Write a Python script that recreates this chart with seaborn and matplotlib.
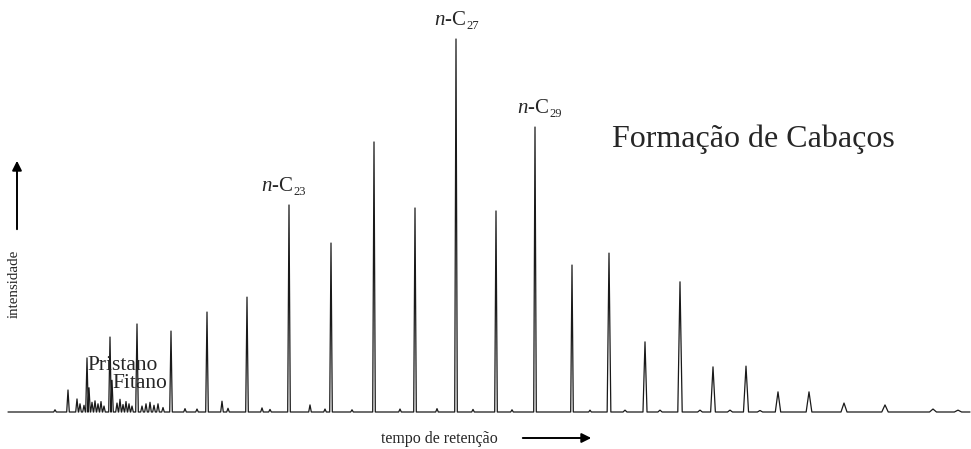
"""
Cromatograma de hidrocarbonetos saturados - Formação de Cabaços.
"""

import matplotlib
matplotlib.use("Agg")
import matplotlib.pyplot as plt
import numpy as np
import pandas as pd
import seaborn as sns

# retention position (arbitrary units) and relative intensity (% of n-C27)
peak_rt = [68, 77, 87, 89, 110, 112, 137, 171, 207, 247, 289, 331, 374, 415, 456,
           496, 535, 572, 609, 645, 680, 713, 746, 778, 809, 844, 885, 933]
peak_int = [5.9, 3.5, 14.5, 6.5, 20.1, 8.5, 23.6, 21.7, 26.8, 30.8, 55.5, 45.3, 72.4, 54.7, 100.0,
            53.9, 76.4, 39.4, 42.6, 18.8, 34.9, 12.1, 12.3, 5.4, 5.4, 2.4, 1.9, 0.8]

# minor peaks / baseline grass
minor_rt = [55, 80, 84, 92, 95, 98, 101, 104, 117, 120, 123, 126, 129, 132, 142, 146,
            150, 154, 158, 163, 185, 197, 222, 228, 262, 270, 310, 325, 352, 400, 437,
            473, 512, 590, 625, 660, 700, 730, 760, 958]
minor_int = [0.6, 2.2, 1.8, 2.6, 3.0, 2.2, 2.8, 1.6, 2.4, 3.4, 2.0, 2.8, 2.2, 1.6, 1.6, 2.2,
             2.6, 1.8, 2.2, 1.2, 0.9, 0.8, 2.9, 1.0, 1.1, 0.7, 1.9, 0.8, 0.6, 0.8, 0.9,
             0.7, 0.6, 0.5, 0.5, 0.5, 0.5, 0.5, 0.4, 0.5]

labels = ["23", "27", "29"]
label_rt = [289, 456, 535]

rt_start, rt_end = 8, 970

# build trace: each peak is a narrow triangle on the baseline
rts = np.array(peak_rt + minor_rt, dtype=float)
ints = np.array(peak_int + minor_int, dtype=float)
order = np.argsort(rts)
rts, ints = rts[order], ints[order]
xs, ys = [rt_start], [0.0]
for r, h in zip(rts, ints):
    hw = 1.3 if r < 600 else 1.8 + (r - 600) / 200
    xs += [r - hw, r, r + hw]
    ys += [0.0, h, 0.0]
xs.append(rt_end)
ys.append(0.0)
trace = pd.DataFrame({"rt": xs, "intensidade": ys})

sns.set_style("white")
plt.rcParams["font.family"] = ["Liberation Serif", "DejaVu Serif"]
plt.rcParams["mathtext.fontset"] = "custom"
plt.rcParams["mathtext.rm"] = "Liberation Serif"
plt.rcParams["mathtext.it"] = "Liberation Serif:italic"

fig = plt.figure(figsize=(9.71, 4.49), dpi=100)
ax = fig.add_axes([0, 0, 1, 1])
sns.lineplot(data=trace, x="rt", y="intensidade", ax=ax, color="#1a1a1a", lw=0.9,
             estimator=None, sort=False)
ax.set_xlim(0, 971)
ax.set_ylim(-37 / 3.73, 412 / 3.73)
ax.axis("off")

pk = dict(zip(peak_rt, peak_int))
label_dx = [4, 10, 14]
for lab, r, dx in zip(labels, label_rt, label_dx):
    ax.text(r + dx, pk[r] + 2.4, "$\\mathit{n}$-C", ha="right", va="bottom", fontsize=15)
    ax.text(r + dx, pk[r] + 1.8, lab, ha="left", va="bottom", fontsize=9)

ax.text(612, (413 - 140) / 3.73, "Formação de Cabaços", ha="left", va="center", fontsize=23)
ax.text(87, (413 - 367) / 3.73, "Pristano", ha="left", va="center", fontsize=15.5)
ax.text(112, (413 - 385) / 3.73, "Fitano", ha="left", va="center", fontsize=15.5)

# axis hints drawn in figure pixel coordinates
ax.text(14 / 971, 1 - 284 / 449, "intensidade", transform=ax.transAxes, rotation=90,
        ha="center", va="center", fontsize=10.8)
ax.annotate("", xy=(17 / 971, 1 - 158 / 449), xytext=(17 / 971, 1 - 232 / 449),
            xycoords="axes fraction",
            arrowprops=dict(arrowstyle="-|>", color="black", lw=1.4, mutation_scale=14))
ax.text(381 / 971, 1 - 439 / 449, "tempo de retenção", transform=ax.transAxes,
        ha="left", va="center", fontsize=11.5)
ax.annotate("", xy=(594 / 971, 1 - 438 / 449), xytext=(520 / 971, 1 - 438 / 449),
            xycoords="axes fraction",
            arrowprops=dict(arrowstyle="-|>", color="black", lw=1.4, mutation_scale=14))

fig.savefig("out.png", dpi=100, facecolor="white")
